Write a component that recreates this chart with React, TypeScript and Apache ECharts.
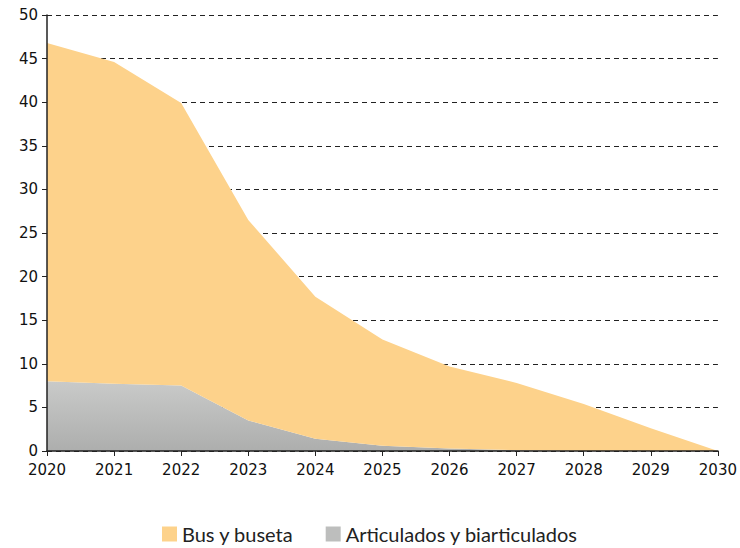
import React, { useEffect, useRef } from "react";
import * as echarts from "echarts";

const years = ["2020", "2021", "2022", "2023", "2024", "2025", "2026", "2027", "2028", "2029", "2030"];
const articulados = [8.0, 7.7, 7.5, 3.5, 1.4, 0.6, 0.3, 0.1, 0.0, 0.0, 0.0];
const busBuseta = [38.8, 36.9, 32.4, 23.0, 16.3, 12.2, 9.4, 7.7, 5.4, 2.6, 0.0];
const legendNames = ["Bus y buseta", "Articulados y biarticulados"];

export default function App() {
  const ref = useRef<HTMLDivElement>(null);
  useEffect(() => {
    document.body.style.margin = "0";
    if (!ref.current) return;
    const chart = echarts.init(ref.current, undefined, { renderer: "svg" });
    const axisFont = "'DejaVu Sans', sans-serif";
    const legendFont = "Lato, 'Noto Sans', sans-serif";
    const hidden = { show: false };
    chart.setOption({
      animation: false,
      grid: { left: 47, right: 20, top: 15, bottom: 97, containLabel: false },
      legend: {
        data: legendNames,
        top: 519,
        left: "center",
        itemWidth: 15,
        itemHeight: 15,
        itemGap: 32,
        icon: "rect",
        textStyle: { fontFamily: legendFont, fontSize: 20, color: "#222" },
      },
      xAxis: [
        {
          type: "category",
          data: years,
          boundaryGap: false,
          axisLine: hidden,
          axisTick: hidden,
          axisLabel: hidden,
          splitLine: hidden,
          z: 0,
        },
        {
          type: "category",
          data: years,
          boundaryGap: false,
          position: "bottom",
          axisLine: { show: true, lineStyle: { color: "#222", width: 1.5 } },
          axisTick: { show: true, length: 5, lineStyle: { color: "#222" } },
          axisLabel: { fontFamily: axisFont, fontSize: 15, color: "#111", margin: 11 },
          splitLine: hidden,
          z: 10,
        },
      ],
      yAxis: [
        {
          type: "value",
          min: 0,
          max: 50,
          interval: 5,
          axisLine: hidden,
          axisTick: hidden,
          axisLabel: hidden,
          splitLine: { show: true, lineStyle: { color: "#222", type: [5, 4], width: 1 } },
          z: 0,
        },
        {
          type: "value",
          min: 0,
          max: 50,
          interval: 5,
          position: "left",
          axisLine: { show: true, lineStyle: { color: "#222", width: 1.5 } },
          axisTick: { show: true, length: 5, lineStyle: { color: "#222" } },
          axisLabel: { fontFamily: axisFont, fontSize: 15, color: "#111", margin: 9 },
          splitLine: hidden,
          z: 10,
        },
      ],
      series: [
        {
          name: legendNames[1],
          type: "line",
          stack: "total",
          data: articulados,
          symbol: "none",
          lineStyle: { width: 0 },
          itemStyle: { color: "#bdbebd" },
          areaStyle: {
            opacity: 1,
            color: new echarts.graphic.LinearGradient(0, 0, 0, 1, [
              { offset: 0, color: "#c9cac9" },
              { offset: 1, color: "#adaead" },
            ]),
          },
        },
        {
          name: legendNames[0],
          type: "line",
          stack: "total",
          data: busBuseta,
          symbol: "none",
          lineStyle: { width: 0 },
          itemStyle: { color: "#fdd28b" },
          areaStyle: { opacity: 1, color: "#fdd28b" },
        },
      ],
    });
    return () => chart.dispose();
  }, []);
  return <div ref={ref} style={{ width: 740, height: 548 }} />;
}
